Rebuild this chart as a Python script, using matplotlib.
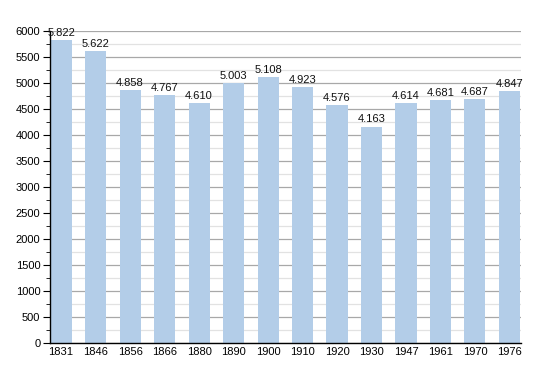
import matplotlib
matplotlib.use("Agg")
import matplotlib.pyplot as plt
from matplotlib.ticker import MultipleLocator
import numpy as np

plt.rcParams['font.family'] = ['Liberation Sans', 'DejaVu Sans']

years = ['1831', '1846', '1856', '1866', '1880', '1890', '1900',
         '1910', '1920', '1930', '1947', '1961', '1970', '1976']
population = [5822, 5622, 4858, 4767, 4610, 5003, 5108,
              4923, 4576, 4163, 4614, 4681, 4687, 4847]

fig = plt.figure(figsize=(5.5, 3.73), dpi=100)
ax = fig.add_axes([0.091, 0.080, 0.856, 0.837])

x = np.arange(len(years))
bars = ax.bar(x, population, width=0.61, color='#b3cde8', zorder=2)

# labels with dot as thousands separator
for xi, v in zip(x, population):
    ax.text(xi, v + 40, f"{v:,}".replace(',', '.'), ha='center', va='bottom',
            fontsize=8, color='#111111', zorder=3)

ax.set_xlim(-0.32, len(years) - 0.67)
ax.set_ylim(0, 6000)
ax.set_xticks(x)
ax.set_xticklabels(years)
ax.yaxis.set_major_locator(MultipleLocator(500))
ax.yaxis.set_minor_locator(MultipleLocator(250))

ax.grid(axis='y', which='major', color='#a8a8a8', linewidth=0.9, zorder=0)
ax.grid(axis='y', which='minor', color='#e2e2e2', linewidth=0.9, zorder=0)
ax.set_axisbelow(True)

for s in ['top', 'right']:
    ax.spines[s].set_visible(False)
ax.spines['left'].set_linewidth(1.0)
ax.spines['bottom'].set_linewidth(1.0)

ax.tick_params(axis='y', which='major', length=5, labelsize=8, pad=2)
ax.tick_params(axis='y', which='minor', length=3)
ax.tick_params(axis='x', length=0, labelsize=8, pad=3)

fig.savefig('out.png', dpi=100)
